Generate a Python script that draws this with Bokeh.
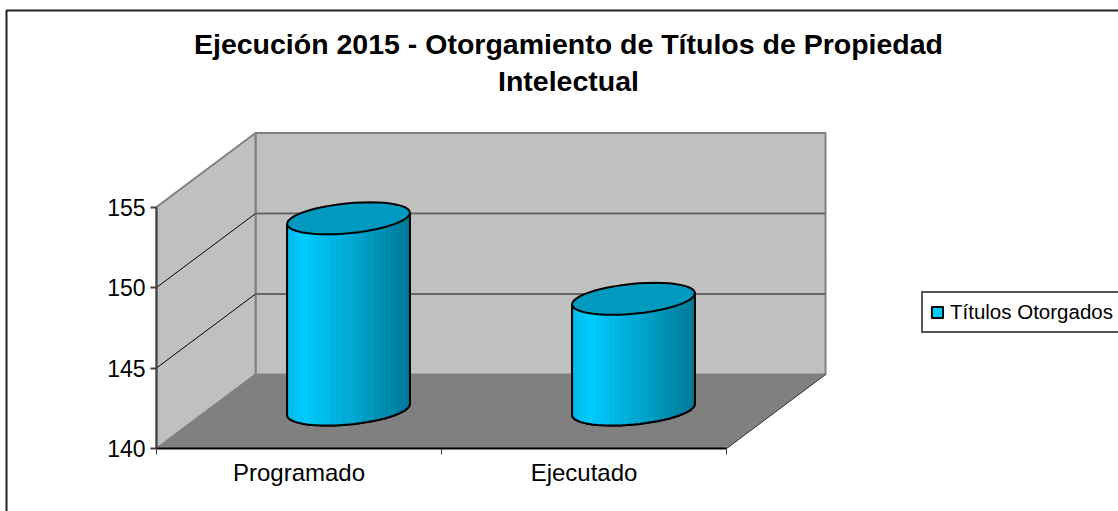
import numpy as np
from bokeh.embed import file_html
from bokeh.resources import INLINE
from bokeh.plotting import figure
from bokeh.models import (Range1d, FixedTicker, LinearAxis, Label, Legend, LegendItem, BoxAnnotation)

categories = ["Programado", "Ejecutado"]
values = [152, 147]
y_ticks = [140, 145, 150, 155]
series_name = "Títulos Otorgados"
title_lines = ["Ejecución 2015 - Otorgamiento de Títulos de Propiedad", "Intelectual"]

FONT = "Liberation Sans"
Y0, Y1 = 140, 155
SX, SY = 285, 16.1                # pixels per data unit
DX, DY = 99 / SX, 74 / SY         # depth of the 3D box, in data units
RX, RD = 0.202, 0.216             # cylinder radius along x and along depth
BASE = Y0 + 0.12                  # cylinder foot
W, H = 1118, 511
OX, OY = 156, 448                 # where x=0, y=140 lies on the page

p = figure(width=W, height=H, output_backend="svg", toolbar_location=None,
           x_range=Range1d(-OX / SX, (W - OX) / SX), y_range=Range1d(Y0 - (H - OY) / SY, Y0 + OY / SY),
           min_border_left=0, min_border_right=0, min_border_top=0, min_border_bottom=0,
           x_axis_location=None, y_axis_location=None, background_fill_color="white",
           border_fill_color="white", outline_line_color=None,
           styles={"position": "absolute", "left": "0px", "top": "0px"})
p.xgrid.visible = False
p.ygrid.visible = False

n = len(categories)
# walls and floor
p.patch([DX, n + DX, n + DX, DX], [Y0 + DY, Y0 + DY, Y1 + DY, Y1 + DY], fill_color="#c0c0c0", line_color="#808080", line_width=2)
p.patch([0, DX, DX, 0], [Y0, Y0 + DY, Y1 + DY, Y1], fill_color="#c0c0c0", line_color="#808080", line_width=2)
p.patch([0, n, n + DX, DX], [Y0, Y0, Y0 + DY, Y0 + DY], fill_color="#808080", line_color="#808080", line_width=1)
p.line([n, n + DX], [Y0, Y0 + DY], line_color="#404040", line_width=1)
for t in y_ticks[1:-1]:
    p.line([0, DX], [t, t + DY], line_color="black", line_width=1)
    p.line([DX, n + DX], [t + DY, t + DY], line_color="#666666", line_width=2)

# cylinders
t0 = np.arctan2(RD * DX, RX)
stops_u = [0, 0.14, 0.3, 0.55, 0.8, 1]
stops_g = [0xBA, 0xCC, 0xBC, 0xA6, 0x8C, 0x78]
stops_b = [0xE8, 0xFF, 0xEA, 0xD0, 0xAE, 0x98]
front = np.linspace(t0, t0 - np.pi, 31)
around = np.linspace(0, 2 * np.pi, 49)

def ring(cx, v, ts):
    xs = cx + RX * np.cos(ts) + RD * DX * np.sin(ts) + 0.5 * DX
    ys = v + RD * DY * np.sin(ts) + 0.5 * DY
    return xs, ys

legend_rs = None
for i, v in enumerate(values):
    cx = i + 0.5
    bx, by = ring(cx, BASE, front)
    tx, ty = ring(cx, v, front)
    sil = p.patch(np.r_[bx, tx[::-1]], np.r_[by, ty[::-1]], fill_color="#00ccff", line_color="black", line_width=2)
    if legend_rs is None:
        legend_rs = sil
    xs, ys, cols = [], [], []
    umin, umax = bx.min(), bx.max()
    for j in range(len(front) - 1):
        xs.append([bx[j], bx[j + 1], tx[j + 1], tx[j]])
        ys.append([by[j], by[j + 1], ty[j + 1], ty[j]])
        u = ((bx[j] + bx[j + 1]) / 2 - umin) / (umax - umin)
        cols.append("#00%02x%02x" % (int(np.interp(u, stops_u, stops_g)), int(np.interp(u, stops_u, stops_b))))
    p.patches(xs, ys, fill_color=cols, line_color=cols, line_width=0.5)
    ex, ey = ring(cx, v, around)
    p.patch(ex, ey, fill_color="#0099bf", line_color="black", line_width=2)
    p.line(np.r_[tx[0], bx, tx[-1]], np.r_[ty[0], by, ty[-1]], line_color="black", line_width=2)

# axes
ya = LinearAxis(ticker=FixedTicker(ticks=y_ticks), bounds=(Y0, Y1), fixed_location=0,
                axis_line_color="#404040", axis_line_width=2,
                major_tick_line_color="#404040", major_tick_line_width=2, major_tick_in=0, major_tick_out=6,
                minor_tick_line_color=None, major_label_text_font=FONT, major_label_text_font_size="23px",
                major_label_text_color="black", major_label_standoff=5)
p.add_layout(ya, "left")
xa = LinearAxis(ticker=FixedTicker(ticks=[i + 0.5 for i in range(n)], minor_ticks=list(range(n + 1))),
                bounds=(0, n), fixed_location=Y0, axis_line_color="black", axis_line_width=2,
                major_tick_line_color=None, major_tick_in=0, major_tick_out=0,
                minor_tick_line_color="#404040", minor_tick_line_width=1, minor_tick_in=0, minor_tick_out=6,
                major_label_overrides={i + 0.5: c for i, c in enumerate(categories)},
                major_label_text_font=FONT, major_label_text_font_size="24px", major_label_text_color="black",
                major_label_standoff=4)
p.add_layout(xa, "below")

# title
for line, yy in zip(title_lines, [43, 80]):
    p.add_layout(Label(x=568, y=yy, x_units="canvas", y_units="canvas", text=line, text_align="center",
                       text_baseline="middle", text_font=FONT, text_font_style="bold", text_font_size="28.5px",
                       text_color="black"))

# outer border
p.add_layout(BoxAnnotation(left=6, right=1130, top=10, bottom=530, left_units="canvas", right_units="canvas",
                           top_units="canvas", bottom_units="canvas", fill_alpha=0, line_color="#222222",
                           line_alpha=1, line_width=2))

leg = Legend(items=[LegendItem(label=series_name, renderers=[legend_rs])], location=(921, 178),
             border_line_color="#555555", border_line_alpha=1, border_line_width=2,
             background_fill_color="white", background_fill_alpha=1,
             label_text_font=FONT, label_text_font_size="20.5px", label_text_color="black",
             glyph_width=14, glyph_height=14, padding=7, margin=0, label_standoff=6, label_width=200)
p.add_layout(leg, "center")

open("out.html", "w").write(file_html(p, INLINE))
